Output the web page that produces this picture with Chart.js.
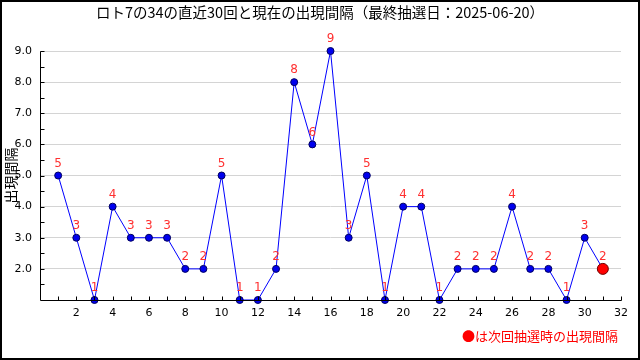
<!DOCTYPE html>
<html>
<head>
<meta charset="utf-8">
<script src="https://cdn.jsdelivr.net/npm/chart.js@4"></script>
<style>
html,body{margin:0;padding:0;background:#fff;}
#wrap{width:640px;height:360px;position:relative;}
</style>
</head>
<body>
<div id="wrap"><canvas id="c" width="640" height="360"></canvas></div>
<script>
const chartTitle = 'ロト7の34の直近30回と現在の出現間隔（最終抽選日：2025-06-20）';
const yTitle = '出現間隔';
const noteText = '●は次回抽選時の出現間隔';
const draws = [1,2,3,4,5,6,7,8,9,10,11,12,13,14,15,16,17,18,19,20,21,22,23,24,25,26,27,28,29,30,31];
const intervals = [5,3,1,4,3,3,3,2,2,5,1,1,2,8,6,9,3,5,1,4,4,1,2,2,2,4,2,2,1,3,2];
const xTickValues = [2,4,6,8,10,12,14,16,18,20,22,24,26,28,30,32];
const yTickValues = [2,3,4,5,6,7,8,9];

const lastIdx = intervals.length - 1;
const pts = draws.map((d,i)=>({x:d,y:intervals[i]}));

const FONT_NUM = '"DejaVu Sans", sans-serif';
const FONT_JP = '"Noto Sans CJK JP", sans-serif';

const decor = {
  id:'decor',
  beforeDraw(chart){
    const ctx = chart.ctx;
    ctx.save();
    ctx.fillStyle='#fff';
    ctx.fillRect(0,0,chart.width,chart.height);
    ctx.restore();
  },
  afterDraw(chart){
    const ctx = chart.ctx;
    const xs = chart.scales.x, ys = chart.scales.y;
    ctx.save();
    ctx.strokeStyle='#000'; ctx.lineWidth=1;
    ctx.beginPath();
    const x0 = Math.round(xs.getPixelForValue(0))+0.5;
    const y0 = Math.round(ys.getPixelForValue(1))+0.5;
    ctx.moveTo(x0, Math.round(ys.getPixelForValue(9))+0.5);
    ctx.lineTo(x0, y0);
    ctx.lineTo(Math.round(xs.getPixelForValue(32))+0.5, y0);
    for(let v=1; v<=32; v++){
      const px = Math.round(xs.getPixelForValue(v))+0.5;
      ctx.moveTo(px, y0); ctx.lineTo(px, y0-4);
    }
    for(let v=1.5; v<=9; v+=0.5){
      const py = Math.round(ys.getPixelForValue(v))+0.5;
      ctx.moveTo(x0, py); ctx.lineTo(x0+4, py);
    }
    ctx.stroke();
    const meta = chart.getDatasetMeta(0);
    ctx.fillStyle='#ff3030';
    ctx.font='12px '+FONT_NUM;
    ctx.textAlign='center'; ctx.textBaseline='middle';
    meta.data.forEach((el,i)=>{
      ctx.fillText(String(intervals[i]), el.x, el.y-12);
    });
    ctx.fillStyle='#000';
    ctx.font='14.5px '+FONT_JP;
    ctx.textAlign='center';
    ctx.fillText(chartTitle, 320, 12);
    ctx.fillStyle='#ff0000';
    ctx.font='13px '+FONT_JP;
    ctx.textAlign='right';
    ctx.fillText(noteText, 618, 336);
    ctx.strokeStyle='#000'; ctx.lineWidth=2;
    ctx.strokeRect(1,1,chart.width-2,chart.height-2);
    ctx.restore();
  }
};

new Chart(document.getElementById('c'), {
  type:'line',
  data:{
    datasets:[{
      data: pts,
      borderColor:'#0000ff',
      borderWidth:1,
      tension:0,
      pointRadius: pts.map((p,i)=> i===lastIdx ? 5.5 : 3.5),
      pointBackgroundColor: pts.map((p,i)=> i===lastIdx ? '#ff0000' : '#0000ee'),
      pointBorderColor: pts.map((p,i)=> i===lastIdx ? '#700000' : '#000060'),
      pointBorderWidth:1,
      clip:false
    }]
  },
  options:{
    responsive:false,
    animation:false,
    events:[],
    layout:{padding:{top:51,right:19,left:0,bottom:0}},
    plugins:{legend:{display:false},title:{display:false},tooltip:{enabled:false}},
    scales:{
      x:{
        type:'linear', min:0, max:32,
        afterBuildTicks(s){ s.ticks = [0].concat(xTickValues).map(v=>({value:v})); },
        afterFit(s){ s.height = 60; },
        grid:{display:false, drawTicks:false},
        border:{display:false},
        ticks:{
          padding:7, color:'#000', maxRotation:0, autoSkip:false,
          font:{family:FONT_NUM,size:11},
          callback:(v)=> v===0 ? '' : String(v)
        }
      },
      y:{
        type:'linear', min:1, max:9,
        afterBuildTicks(s){ s.ticks = [1].concat(yTickValues).map(v=>({value:v})); },
        afterFit(s){ s.width = 40; },
        grid:{color:(c)=> c.tick && c.tick.value===1 ? 'rgba(0,0,0,0)' : '#d4d4d4', drawTicks:false, lineWidth:1},
        border:{display:false},
        ticks:{
          padding:8, color:'#000', autoSkip:false,
          font:{family:FONT_NUM,size:11},
          callback:(v)=> v===1 ? '' : Number(v).toFixed(1)
        },
        title:{display:true, text:yTitle, color:'#000', font:{family:FONT_JP,size:14}, padding:{top:2,bottom:0}}
      }
    }
  },
  plugins:[decor]
});
</script>
</body>
</html>
